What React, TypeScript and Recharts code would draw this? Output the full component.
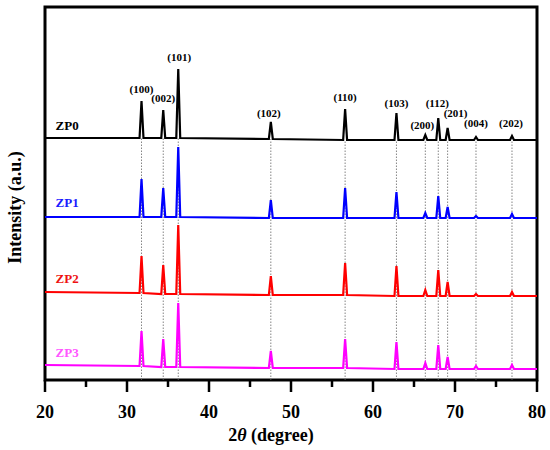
import { LineChart, Line, XAxis, YAxis, ReferenceLine, ReferenceArea, ReferenceDot } from "recharts";

// ZnO reflections (2theta, degree) and their Miller indices
const peakAngles = [31.77, 34.42, 36.25, 47.54, 56.6, 62.86, 66.38, 67.96, 69.1, 72.56, 76.95];
const hklLabels = ["(100)", "(002)", "(101)", "(102)", "(110)", "(103)", "(200)", "(112)", "(201)", "(004)", "(202)"];
const xTicks = [20, 25, 30, 35, 40, 45, 50, 55, 60, 65, 70, 75, 80];

// peak tops per sample (a.u., curves already offset)
const zp0Peaks = [279, 270, 311, 258, 271, 267, 245, 262, 252, 243, 244];
const zp1Peaks = [201, 192, 233, 180, 192, 188, 167, 184, 173, 164, 166];
const zp2Peaks = [124, 115, 155, 104, 117, 114, 90, 110, 98, 86, 88];
const zp3Peaks = [49, 41, 77, 29, 41, 38, 17, 35, 23, 14, 15];

// background: at 20°, under each peak, at 80°
const zp0Base = [242, 242, 242, 242, 241, 240, 240, 240, 240, 240, 240, 240, 240];
const zp1Base = [163, 163, 163, 163, 162, 162, 162, 162, 162, 162, 162, 162, 162];
const zp2Base = [88, 87, 86, 86, 85, 85, 84, 84, 84, 84, 84, 84, 84];
const zp3Base = [15, 14, 13, 13, 12, 12, 11, 11, 11, 11, 11, 11, 11];

const sampleNames = ["ZP0", "ZP1", "ZP2", "ZP3"];
const sampleLabelLevels = [255, 178, 102, 28];

const series = [
  { key: "zp0", peaks: zp0Peaks, base: zp0Base, color: "#000000", text: "#000000" },
  { key: "zp1", peaks: zp1Peaks, base: zp1Base, color: "#0000ff", text: "#1a1aff" },
  { key: "zp2", peaks: zp2Peaks, base: zp2Base, color: "#ff0000", text: "#ee1111" },
  { key: "zp3", peaks: zp3Peaks, base: zp3Base, color: "#ff00ff", text: "#ff55ff" },
];

const HALF_WIDTH = 0.24;

function buildRows() {
  const rows: Record<string, number>[] = [];
  const row = (x: number, pick: (s: (typeof series)[number]) => number) => {
    const r: Record<string, number> = { x };
    series.forEach((s) => (r[s.key] = pick(s)));
    rows.push(r);
  };
  row(20, (s) => s.base[0]);
  peakAngles.forEach((a, i) => {
    row(a - HALF_WIDTH, (s) => s.base[i + 1]);
    row(a, (s) => s.peaks[i]);
    row(a + HALF_WIDTH, (s) => s.base[i + 1]);
  });
  row(80, (s) => s.base[12]);
  return rows;
}

const data = buildRows();

const FONT = "Times New Roman, Liberation Serif, serif";
const hklDx = [0, 0, 1, -2, 0, 0, -3, -1, 8, 0, -1];
const hklDy = [12, 12, 12, 9, 12, 10, 10, 15, 15, 14, 13];

function AngleTick(props: any) {
  const { x, y, payload } = props;
  const major = payload.value % 10 === 0;
  return (
    <g>
      <line x1={x} x2={x} y1={y} y2={y + (major ? 12 : 7)} stroke="#000" strokeWidth={2.5} />
      {major && (
        <text x={x} y={y + 38} textAnchor="middle" fontSize={18} fontWeight="bold" style={{ fontFamily: FONT }} fill="#000">
          {payload.value}
        </text>
      )}
    </g>
  );
}

export default function App() {
  return (
    <div style={{ position: "absolute", left: 0, top: 0, background: "#fff" }}>
      <LineChart width={550} height={450} data={data} margin={{ top: 7, right: 13, left: 0, bottom: 0 }}>
        <XAxis
          dataKey="x"
          type="number"
          domain={[20, 80]}
          ticks={xTicks}
          interval={0}
          height={70}
          axisLine={false}
          tickLine={false}
          tickSize={0}
          tickMargin={0}
          tick={<AngleTick />}
          label={{
            content: (p: any) => {
              const vb = p.viewBox;
              return (
                <text
                  x={vb.x + vb.width / 2 - 20}
                  y={vb.y + 61}
                  textAnchor="middle"
                  fontSize={18}
                  fontWeight="bold"
                  style={{ fontFamily: FONT }}
                  fill="#000"
                >
                  2<tspan fontStyle="italic">θ</tspan> (degree)
                </text>
              );
            },
          }}
        />
        <YAxis
          type="number"
          domain={[0, 373]}
          width={45}
          tick={false}
          axisLine={false}
          tickLine={false}
          label={{
            content: (p: any) => {
              const vb = p.viewBox;
              const cx = vb.x + 15;
              const cy = vb.y + vb.height / 2 + 14;
              return (
                <text
                  x={cx}
                  y={cy}
                  transform={`rotate(-90 ${cx} ${cy})`}
                  textAnchor="middle"
                  dominantBaseline="central"
                  fontSize={18}
                  fontWeight="bold"
                  style={{ fontFamily: FONT }}
                  fill="#000"
                >
                  Intensity (a.u.)
                </text>
              );
            },
          }}
        />
        {peakAngles.map((a, i) => (
          <ReferenceLine
            key={`ref-${i}`}
            segment={[
              { x: a, y: 0 },
              { x: a, y: zp0Base[i + 1] },
            ]}
            stroke="#666"
            strokeWidth={0.8}
            strokeDasharray="1.5 1.5"
          />
        ))}
        {series.map((s) => (
          <Line
            key={s.key}
            dataKey={s.key}
            type="linear"
            stroke={s.color}
            strokeWidth={2.2}
            dot={false}
            activeDot={false}
            isAnimationActive={false}
          />
        ))}
        {peakAngles.map((a, i) => (
          <ReferenceDot
            key={`hkl-${i}`}
            x={a}
            y={zp0Peaks[i]}
            r={0}
            shape={(p: any) => (
              <text
                x={p.cx + hklDx[i]}
                y={p.cy - hklDy[i]}
                textAnchor="middle"
                dominantBaseline="central"
                fontSize={11}
                fontWeight="bold"
                style={{ fontFamily: FONT }}
                fill="#000"
              >
                {hklLabels[i]}
              </text>
            )}
          />
        ))}
        {sampleNames.map((name, i) => (
          <ReferenceDot
            key={`name-${i}`}
            x={22.7}
            y={sampleLabelLevels[i]}
            r={0}
            shape={(p: any) => (
              <text
                x={p.cx}
                y={p.cy}
                textAnchor="middle"
                dominantBaseline="central"
                fontSize={13}
                fontWeight="bold"
                style={{ fontFamily: FONT }}
                fill={series[i].text}
              >
                {name}
              </text>
            )}
          />
        ))}
        <ReferenceArea x1={20} x2={80} y1={0} y2={373} fill="none" stroke="#000" strokeWidth={3} />
      </LineChart>
    </div>
  );
}
